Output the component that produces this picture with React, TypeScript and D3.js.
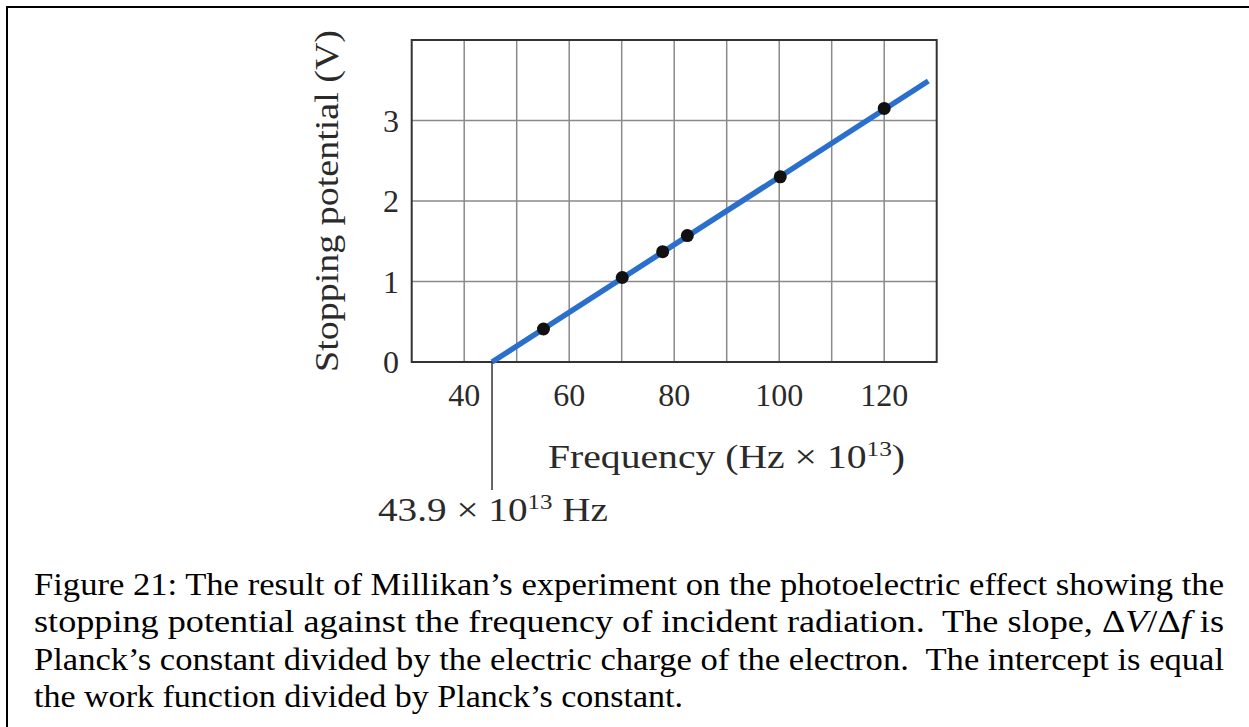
import React from "react";
import * as d3 from "d3";

// Data
const frequency = [55.1, 70.1, 77.8, 82.5, 100.2, 120.0]; // Hz x 10^13
const stoppingPotential = [0.41, 1.05, 1.37, 1.57, 2.3, 3.15]; // V
const fitFrequency = [45.3, 128.4];
const fitPotential = [0, 3.49];
const xTicks = [40, 60, 80, 100, 120];
const xGrid = [40, 50, 60, 70, 80, 90, 100, 110, 120];
const yTicks = [0, 1, 2, 3];
const yGrid = [1, 2, 3];
const interceptFreq = 45.3;
const captionLine1 = "Figure 21: The result of Millikan\u2019s experiment on the photoelectric effect showing the";
const captionLine2a = "stopping potential against the frequency of incident radiation.  The slope, \u0394";
const captionLine3 = "Planck\u2019s constant divided by the electric charge of the electron.  The intercept is equal";
const captionLine4 = "the work function divided by Planck\u2019s constant.";

const W = 1249;
const H = 727;
const plot = { left: 411.7, right: 936.7, top: 40, bottom: 362 };

export default function App() {
  const x = d3.scaleLinear().domain([30, 130]).range([plot.left, plot.right]);
  const y = d3.scaleLinear().domain([0, 4]).range([plot.bottom, plot.top]);
  const fitPts: [number, number][] = fitFrequency.map((f, i) => [f, fitPotential[i]]);
  const line = d3
    .line<[number, number]>()
    .x((d) => x(d[0]))
    .y((d) => y(d[1]));
  const serif = "'Liberation Serif', 'Times New Roman', serif";
  const capProps = {
    x: 34,
    fontFamily: serif,
    fontSize: 31,
    fill: "#000",
    lengthAdjust: "spacingAndGlyphs",
    style: { whiteSpace: "pre" as const },
  };

  return (
    <svg
      width={W}
      height={H}
      style={{ position: "absolute", left: 0, top: 0, background: "#fff" }}
    >
      {/* outer frame */}
      <line x1={6} y1={7} x2={W} y2={7} stroke="#000" strokeWidth={2} />
      <line x1={7} y1={6} x2={7} y2={H} stroke="#000" strokeWidth={2} />

      {/* grid */}
      {xGrid.map((g) => (
        <line
          key={"xg" + g}
          x1={x(g)}
          x2={x(g)}
          y1={plot.top}
          y2={plot.bottom}
          stroke="#8a8a8a"
          strokeWidth={1.5}
        />
      ))}
      {yGrid.map((g) => (
        <line
          key={"yg" + g}
          x1={plot.left}
          x2={plot.right}
          y1={y(g)}
          y2={y(g)}
          stroke="#8a8a8a"
          strokeWidth={1.5}
        />
      ))}
      {/* plot border */}
      <rect
        x={plot.left}
        y={plot.top}
        width={plot.right - plot.left}
        height={plot.bottom - plot.top}
        fill="none"
        stroke="#333"
        strokeWidth={2}
      />

      {/* fit line */}
      <path d={line(fitPts) || ""} stroke="#2a6fcc" strokeWidth={5.5} fill="none" />

      {/* data points */}
      {frequency.map((f, i) => (
        <circle key={"p" + i} cx={x(f)} cy={y(stoppingPotential[i])} r={6.5} fill="#111" />
      ))}

      {/* y ticks */}
      {yTicks.map((t) => (
        <text
          key={"yt" + t}
          x={399}
          y={y(t) + 11}
          textAnchor="end"
          fontFamily={serif}
          fontSize={32}
          fill="#2a2a2a"
        >
          {t}
        </text>
      ))}
      {/* x ticks */}
      {xTicks.map((t) => (
        <text
          key={"xt" + t}
          x={x(t)}
          y={406}
          textAnchor="middle"
          fontFamily={serif}
          fontSize={32}
          fill="#2a2a2a"
        >
          {t}
        </text>
      ))}

      {/* y axis title */}
      <text
        transform={`translate(338, 201) rotate(-90)`}
        textAnchor="middle"
        fontFamily={serif}
        fontSize={34}
        fill="#2a2a2a"
        textLength={342}
        lengthAdjust="spacingAndGlyphs"
      >
        Stopping potential (V)
      </text>

      {/* x axis title */}
      <text
        x={548}
        y={468}
        fontFamily={serif}
        fontSize={33}
        fill="#2a2a2a"
        textLength={357}
        lengthAdjust="spacingAndGlyphs"
      >
        Frequency (Hz × 10
        <tspan fontSize={21} dy={-12}>
          13
        </tspan>
        <tspan dy={12}>)</tspan>
      </text>

      {/* intercept marker */}
      <line
        x1={x(interceptFreq)}
        x2={x(interceptFreq)}
        y1={plot.bottom}
        y2={490}
        stroke="#333"
        strokeWidth={1.5}
      />
      <text
        x={378}
        y={521}
        fontFamily={serif}
        fontSize={33}
        fill="#2a2a2a"
        textLength={230}
        lengthAdjust="spacingAndGlyphs"
      >
        43.9 × 10
        <tspan fontSize={21} dy={-12}>
          13
        </tspan>
        <tspan dy={12}> Hz</tspan>
      </text>

      {/* caption */}
      <text {...capProps} y={595} textLength={1190}>
        {captionLine1}
      </text>
      <text {...capProps} y={632} textLength={1190}>
        {captionLine2a}
        <tspan fontStyle="italic">V</tspan>/{"\u0394"}
        <tspan fontStyle="italic">f</tspan> is
      </text>
      <text {...capProps} y={670} textLength={1190}>
        {captionLine3}
      </text>
      <text {...capProps} y={707} textLength={649}>
        {captionLine4}
      </text>
    </svg>
  );
}
